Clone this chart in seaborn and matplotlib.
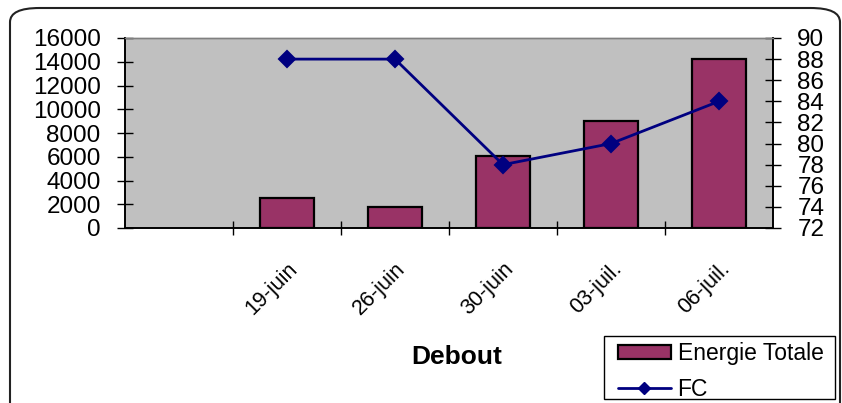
import matplotlib
matplotlib.use("Agg")
import matplotlib.pyplot as plt
from matplotlib.patches import Patch, FancyBboxPatch, Rectangle
from matplotlib.lines import Line2D
import seaborn as sns
import pandas as pd

# Data
categories = ["", "19-juin", "26-juin", "30-juin", "03-juil.", "06-juil."]
dates = ["19-juin", "26-juin", "30-juin", "03-juil.", "06-juil."]
energie_totale = [2500, 1800, 6100, 9000, 14200]
fc = [88, 88, 78, 80, 84]

bar_color = "#993366"
line_color = "#000080"
plot_bg = "#C0C0C0"

sns.set_theme(style="white")
plt.rcParams["font.family"] = ["Liberation Sans", "DejaVu Sans"]
plt.rcParams["text.color"] = "black"
plt.rcParams["xtick.color"] = "black"
plt.rcParams["ytick.color"] = "black"
plt.rcParams["axes.labelcolor"] = "black"

df = pd.DataFrame({"date": dates, "energie": energie_totale, "fc": fc})

fig = plt.figure(figsize=(8.42, 4.03), dpi=100)
fig.patch.set_facecolor("white")

W, H = 842, 403

# Rounded chart-area frame
frame = FancyBboxPatch((10 / W, -0.2), (830 / W), 1.2 - 8 / H,
                       boxstyle="round,pad=0,rounding_size=0.035",
                       transform=fig.transFigure, facecolor="none",
                       edgecolor="#222222", linewidth=1.5, zorder=0)
fig.patches.append(frame)

ax = fig.add_axes([125 / W, 1 - 228 / H, (773 - 125) / W, (228 - 38) / H])
ax.set_facecolor(plot_bg)

sns.barplot(data=df, x="date", y="energie", order=categories, ax=ax,
            color=bar_color, saturation=1, width=0.5,
            edgecolor="black", linewidth=1.6, errorbar=None)

ax.set_ylim(0, 16000)
ax.set_yticks(range(0, 16001, 2000))
ax.set_xlim(-0.5, len(categories) - 0.5)

ax2 = ax.twinx()
sns.pointplot(data=df, x="date", y="fc", order=categories, ax=ax2,
              color=line_color, markers="D", linestyles="-",
              markersize=8, linewidth=2, errorbar=None)
ax2.set_ylim(72, 90)
ax2.set_yticks(range(72, 91, 2))
ax2.set_xlim(-0.5, len(categories) - 0.5)

# Category boundary ticks
ax.set_xticks([i + 0.5 for i in range(len(categories) - 1)], minor=True)
ax.set_xticks(range(len(categories)))
ax.set_xticklabels(categories, rotation=45, ha="right", va="top",
                   rotation_mode="anchor", fontsize=15.5, color="black")
ax.tick_params(axis="x", which="major", length=0, pad=22)
ax.tick_params(axis="x", which="minor", length=10, width=1, direction="inout",
               color="black", bottom=True)

ax.tick_params(axis="y", which="major", length=11, width=1, direction="inout",
               color="black", labelsize=17.5, labelcolor="black", pad=12, left=True)
ax2.tick_params(axis="y", which="major", length=11, width=1, direction="inout",
                color="black", labelsize=17.5, labelcolor="black", pad=12, right=True)

for a in (ax, ax2):
    a.set_xlabel("")
    a.set_ylabel("")
    for side in ("left", "right", "bottom"):
        a.spines[side].set_color("black")
        a.spines[side].set_linewidth(1.2)
    a.spines["top"].set_color("#808080")
    a.spines["top"].set_linewidth(1)

fig.text(457 / W, 1 - 357 / H, "Debout", ha="center", va="center",
         fontsize=19, fontweight="bold", color="black")

# Legend box
legend_box = Rectangle((604 / W, 1 - 399 / H), (835 - 604) / W, (399 - 336) / H,
                       transform=fig.transFigure, facecolor="white",
                       edgecolor="black", linewidth=1, zorder=2)
fig.patches.append(legend_box)

handles = [
    Patch(facecolor=bar_color, edgecolor="black", linewidth=1.6, label="Energie Totale"),
    Line2D([0], [0], color=line_color, linewidth=2, marker="D", markersize=6,
           label="FC"),
]
leg = fig.legend(handles=handles, loc="upper left",
                 bbox_to_anchor=(618 / W, 1 - 342 / H),
                 frameon=False, fontsize=16.5,
                 handlelength=2.3, handleheight=0.55, handletextpad=0.3,
                 borderpad=0, labelspacing=0.55, borderaxespad=0)
leg.set_zorder(3)
for t in leg.get_texts():
    t.set_color("black")

fig.savefig("out.png", dpi=100)
